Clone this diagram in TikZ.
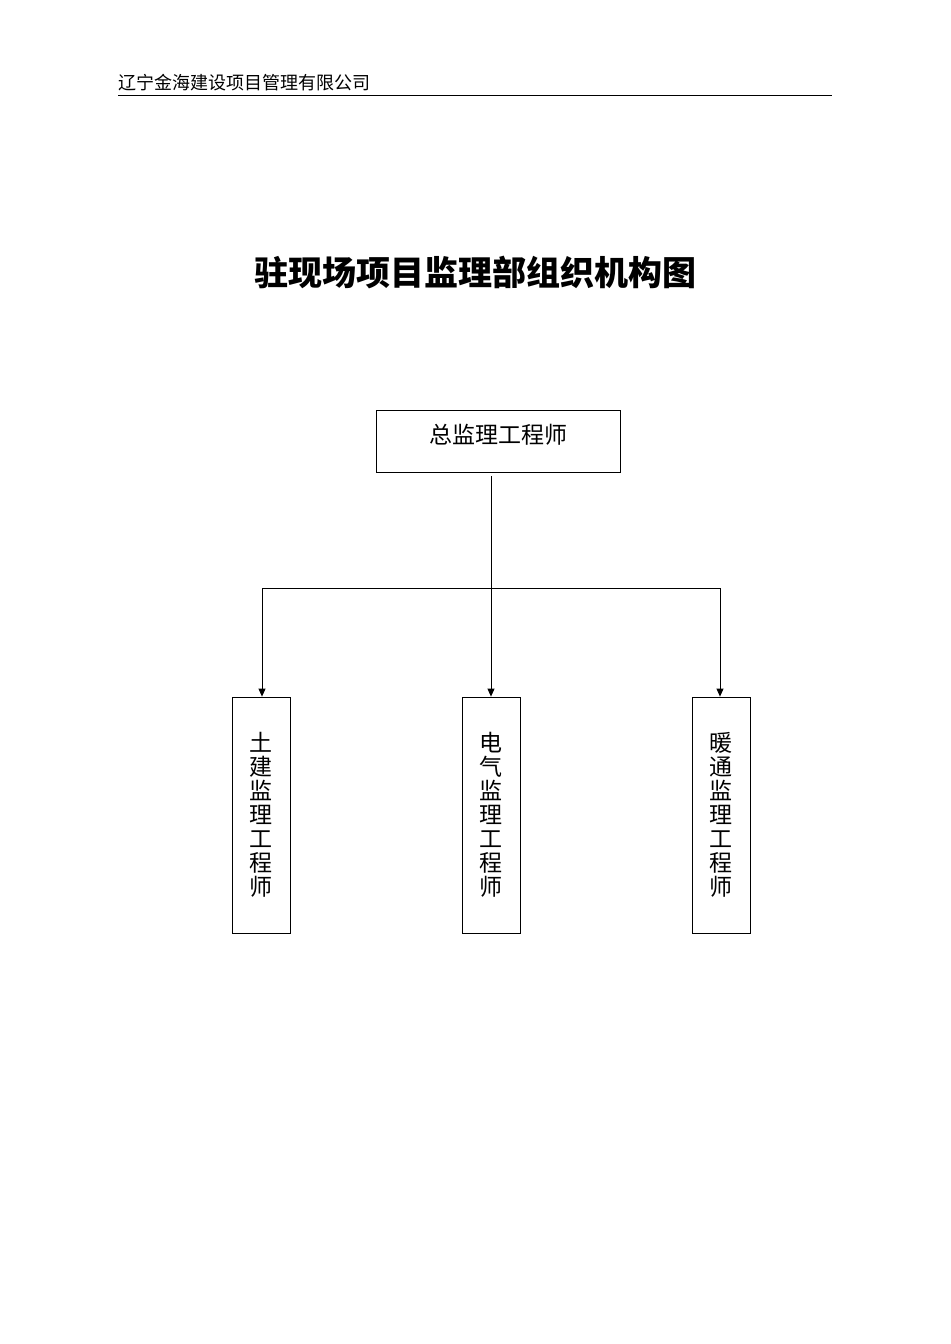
\documentclass[tikz,border=0pt]{standalone}
\usepackage{fontspec}
\newfontfamily\cjk{Noto Sans CJK SC}
\usetikzlibrary{arrows.meta}
\begin{document}
\begin{tikzpicture}[%
  x=0.5pt, y=-0.5pt,
  box/.style = {draw, thin, inner sep=0pt},
  vtext/.style = {font=\cjk\fontsize{11.5}{12}\selectfont, align=center},
  link/.style = {thin, -{Triangle[length=4pt,width=3.5pt]}},
  >={Triangle[length=4pt,width=3.5pt]},
]
  \useasboundingbox (0,0) rectangle (950,1344);

  % header
  \node[anchor=base west, inner sep=0pt, font=\cjk\fontsize{9}{10}\selectfont] (head) at (118,89) {辽宁金海建设项目管理有限公司};
  \draw[thin] (118,95) -- (832,95);

  % title
  \node[font=\cjk\bfseries\fontsize{17}{18}\selectfont] (title) at (475,272) {驻现场项目监理部组织机构图};

  % chief
  \node[box, minimum width=122pt, minimum height=31pt] (chief) at (498,441) {};
  \node[font=\cjk\fontsize{11.5}{12}\selectfont] (chieftext) at (498,435) {总监理工程师};

  % engineers
  \node[box, minimum width=29pt, minimum height=118pt] (civil) at (261,815) {};
  \node[box, minimum width=29pt, minimum height=118pt] (elec) at (491,815) {};
  \node[box, minimum width=29pt, minimum height=118pt] (hvac) at (721,815) {};
  \node[vtext] at (civil) {土\\建\\监\\理\\工\\程\\师};
  \node[vtext] at (elec) {电\\气\\监\\理\\工\\程\\师};
  \node[vtext] at (hvac) {暖\\通\\监\\理\\工\\程\\师};

  \coordinate (top) at (491,476);
  \coordinate (jl) at (262,588);
  \coordinate (jr) at (720,588);

  \draw[link] (top) -- (elec.north);
  \draw[thin] (jl) -- (jr);
  \draw[link] (jl) -- (jl |- civil.north);
  \draw[link] (jr) -- (jr |- hvac.north);
\end{tikzpicture}
\end{document}
